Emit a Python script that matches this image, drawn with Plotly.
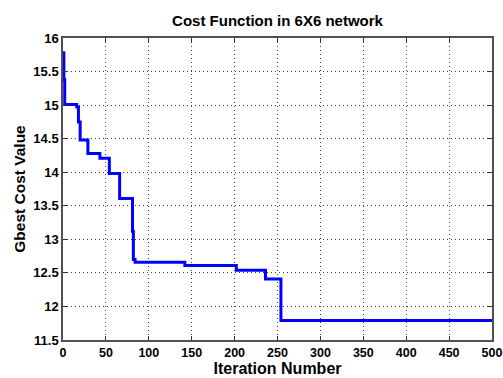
import plotly.graph_objects as go

# Step change points of the Gbest cost (iteration, value)
iterations = [0, 1, 2, 16, 18, 20, 29, 43, 54, 66, 81, 82, 84, 142, 202, 236, 254, 500]
cost_values = [15.78, 15.38, 15.01, 14.97, 14.75, 14.48, 14.28, 14.21, 13.98, 13.61, 13.12, 12.70, 12.66, 12.61, 12.54, 12.41, 11.79, 11.79]

x_ticks = [0, 50, 100, 150, 200, 250, 300, 350, 400, 450, 500]
y_ticks = [11.5, 12, 12.5, 13, 13.5, 14, 14.5, 15, 15.5, 16]

font_family = "Liberation Sans, Arial, sans-serif"

fig = go.Figure()
fig.add_trace(go.Scatter(
    x=iterations, y=cost_values, mode="lines", line_shape="hv",
    line=dict(color="#0000FF", width=3), showlegend=False))

axis_common = dict(
    showline=True, linecolor="#505050", linewidth=1.5, mirror="ticks",
    ticks="inside", ticklen=4, tickcolor="#303030",
    showgrid=True, gridcolor="#404040", griddash="1px,3px", gridwidth=1,
    zeroline=False, automargin=False, ticklabeloverflow="allow",
)

fig.update_layout(
    width=503, height=378,
    margin=dict(l=63, r=11, t=38, b=38),
    paper_bgcolor="white", plot_bgcolor="white",
    title=dict(text="<b>Cost Function in 6X6 network</b>", x=0.5, xref="paper",
               xanchor="center", y=0.944, yref="container", yanchor="middle",
               font=dict(family=font_family, size=15, color="black")),
    xaxis=dict(range=[0, 500], tickvals=x_ticks,
               ticktext=[str(v) for v in x_ticks],
               tickfont=dict(family=font_family, size=12.5, color="black", weight="bold"),
               title=dict(text="<b>Iteration Number</b>", standoff=1,
                          font=dict(family=font_family, size=16, color="black")),
               **axis_common),
    yaxis=dict(range=[11.5, 16], tickvals=y_ticks,
               ticktext=[f"{v:g}" for v in y_ticks],
               tickfont=dict(family=font_family, size=13, color="black", weight="bold"),
               title=dict(text="<b>Gbest Cost Value</b>", standoff=4,
                          font=dict(family=font_family, size=15.5, color="black")),
               **axis_common),
)

fig.write_html("out.html")
